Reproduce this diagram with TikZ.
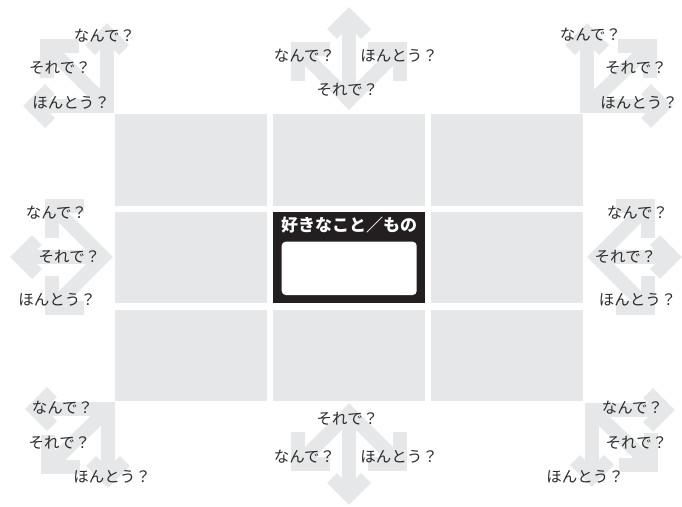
\documentclass[tikz,border=0pt]{standalone}
\usepackage{fontspec}
\setmainfont{Noto Sans CJK JP}
\definecolor{cellgray}{HTML}{E6E7E8}
\definecolor{argray}{HTML}{E6E7E8}
\definecolor{txt}{HTML}{2B2B2B}
\definecolor{ink}{HTML}{231F20}
\newcommand\arhead[5]{\draw[arr] (#1) ++(#2,#3) -- (#1) -- ++(#4,#5);}
\begin{document}
\begin{tikzpicture}[x=1pt,y=-1pt,
  arr/.style={draw=argray,line width=14pt,line join=miter,miter limit=10,line cap=butt},
  cell/.style={fill=cellgray,draw=none},
  lbl/.style={text=txt,font=\fontsize{15.5}{16}\selectfont,inner sep=0pt,text height=0.82em,text depth=0.06em}]
\useasboundingbox (0,0) rectangle (682,506);
% ---------- grid ----------
\fill[cell] (115,114) rectangle (267,205.5);
\fill[cell] (273,114) rectangle (425,205.5);
\fill[cell] (431,114) rectangle (583,205.5);
\fill[cell] (115,211.7) rectangle (267,303.3);
\fill[cell] (431,211.7) rectangle (583,303.3);
\fill[cell] (115,309.6) rectangle (267,401);
\fill[cell] (273,309.6) rectangle (425,401);
\fill[cell] (431,309.6) rectangle (583,401);
\fill[ink] (273,211.7) rectangle (425,303.3);
\fill[white,rounded corners=4pt] (281.7,241.7) rectangle (416.7,295);
\node[text=white,font=\fontsize{17}{18}\selectfont\bfseries,inner sep=0pt,text height=0.84em,text depth=0.08em] (title) at (349,227.5) {好きなこと／もの};
% ---------- top-left ----------
\coordinate (tlO) at (107,106);
\coordinate (tlU) at (107,33);
\coordinate (tlL) at (33,106);
\coordinate (tlD) at (47,46);
\draw[arr] (tlL) -- (tlO) -- (tlU);
\draw[arr] (tlO) -- (tlD);
\arhead{tlU}{-17}{17}{17}{17}
\arhead{tlL}{17}{-17}{17}{17}
\arhead{tlD}{32}{0}{0}{32}
% ---------- top-center ----------
\coordinate (tcO) at (349,100);
\coordinate (tcU) at (349,17);
\coordinate (tcA) at (298,49);
\coordinate (tcB) at (400,49);
\draw[arr] (tcA) -- (tcO) -- (tcB);
\draw[arr] (tcO) -- (tcU);
\arhead{tcU}{-17}{17}{17}{17}
\arhead{tcA}{32}{0}{0}{32}
\arhead{tcB}{-32}{0}{0}{32}
% ---------- top-right ----------
\coordinate (trO) at (587,106);
\coordinate (trU) at (587,33);
\coordinate (trR) at (663,106);
\coordinate (trD) at (650,46);
\draw[arr] (trR) -- (trO) -- (trU);
\draw[arr] (trO) -- (trD);
\arhead{trU}{-17}{17}{17}{17}
\arhead{trR}{-17}{-17}{-17}{17}
\arhead{trD}{-32}{0}{0}{32}
% ---------- left-middle ----------
\coordinate (lmO) at (103,257);
\coordinate (lmL) at (20,257);
\coordinate (lmA) at (52,206);
\coordinate (lmB) at (52,308);
\draw[arr] (lmA) -- (lmO) -- (lmB);
\draw[arr] (lmO) -- (lmL);
\arhead{lmL}{17}{-17}{17}{17}
\arhead{lmA}{32}{0}{0}{32}
\arhead{lmB}{32}{0}{0}{-32}
% ---------- right-middle ----------
\coordinate (rmO) at (597,257);
\coordinate (rmR) at (672,257);
\coordinate (rmA) at (648,206);
\coordinate (rmB) at (648,308);
\draw[arr] (rmA) -- (rmO) -- (rmB);
\draw[arr] (rmO) -- (rmR);
\arhead{rmR}{-17}{-17}{-17}{17}
\arhead{rmA}{-32}{0}{0}{32}
\arhead{rmB}{-32}{0}{0}{-32}
% ---------- bottom-center ----------
\coordinate (bcO) at (349,413);
\coordinate (bcD) at (349,495);
\coordinate (bcA) at (298,464);
\coordinate (bcB) at (400,464);
\draw[arr] (bcA) -- (bcO) -- (bcB);
\draw[arr] (bcO) -- (bcD);
\arhead{bcD}{-17}{-17}{17}{-17}
\arhead{bcA}{32}{0}{0}{-32}
\arhead{bcB}{-32}{0}{0}{-32}
% ---------- bottom-left ----------
\coordinate (blO) at (108,409);
\coordinate (blL) at (35,409);
\coordinate (blD) at (108,478);
\coordinate (blX) at (48,467);
\draw[arr] (blL) -- (blO) -- (blD);
\draw[arr] (blO) -- (blX);
\arhead{blL}{17}{-17}{17}{17}
\arhead{blD}{-17}{-17}{17}{-17}
\arhead{blX}{32}{0}{0}{-32}
% ---------- bottom-right ----------
\coordinate (brO) at (592,410);
\coordinate (brR) at (665,410);
\coordinate (brD) at (592,477);
\coordinate (brX) at (651,465);
\draw[arr] (brR) -- (brO) -- (brD);
\draw[arr] (brO) -- (brX);
\arhead{brR}{-17}{-17}{-17}{17}
\arhead{brD}{-17}{-17}{17}{-17}
\arhead{brX}{-32}{0}{0}{-32}
% ---------- labels ----------
\node[lbl] (tl1) at (104.5,38) {なんで？};
\node[lbl] (tl2) at (60,70) {それで？};
\node[lbl] (tl3) at (71,105) {ほんとう？};
\node[lbl] (tc1) at (304.5,57.5) {なんで？};
\node[lbl] (tc2) at (399,57.5) {ほんとう？};
\node[lbl] (tc3) at (347.5,91.5) {それで？};
\node[lbl] (tr1) at (590.5,37) {なんで？};
\node[lbl] (tr2) at (636,70) {それで？};
\node[lbl] (tr3) at (639,105) {ほんとう？};
\node[lbl] (lm1) at (56.5,215) {なんで？};
\node[lbl] (lm2) at (69.5,258.5) {それで？};
\node[lbl] (lm3) at (57,301.5) {ほんとう？};
\node[lbl] (rm1) at (637.5,215) {なんで？};
\node[lbl] (rm2) at (625.5,258.5) {それで？};
\node[lbl] (rm3) at (637.5,301.5) {ほんとう？};
\node[lbl] (bc1) at (347.5,421) {それで？};
\node[lbl] (bc2) at (304.5,458.5) {なんで？};
\node[lbl] (bc3) at (399,458.5) {ほんとう？};
\node[lbl] (bl1) at (62.5,410) {なんで？};
\node[lbl] (bl2) at (59.5,445) {それで？};
\node[lbl] (bl3) at (112,478.5) {ほんとう？};
\node[lbl] (br1) at (632.5,410) {なんで？};
\node[lbl] (br2) at (636.5,445) {それで？};
\node[lbl] (br3) at (585,478.5) {ほんとう？};
\end{tikzpicture}
\end{document}
